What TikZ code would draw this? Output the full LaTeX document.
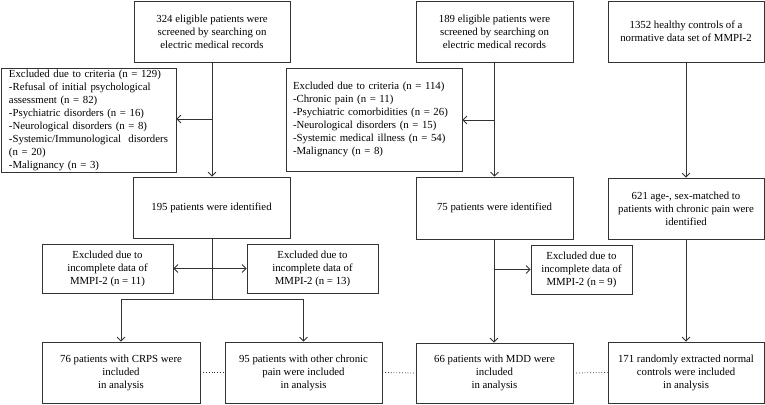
\documentclass[tikz,border=0pt]{standalone}
\usepackage{fontspec}
\setmainfont{Liberation Serif}
\usetikzlibrary{arrows.meta}
\begin{document}
\begin{tikzpicture}[x=1pt,y=-1pt,
  box/.style={draw=black!80, line width=0.8pt, inner sep=0pt, align=center,
    font=\fontsize{10.8}{13}\selectfont},
  lbox/.style={box, align=left},
  arr/.style={draw=black!80, line width=0.8pt, -{Straight Barb[length=4pt,width=8pt]}},
  darr/.style={draw=black!80, line width=0.8pt, {Straight Barb[length=4pt,width=8pt]}-{Straight Barb[length=4pt,width=8pt]}},
  ln/.style={draw=black!80, line width=0.8pt},
  dot/.style={draw=black!80, line width=0.8pt, dotted}]
\useasboundingbox (0,0) rectangle (765,404);
% top row
\node[box, minimum width=156pt, minimum height=61pt] (b1) at (212,31.5) {324 eligible patients were\\screened by searching on\\electric medical records};
\node[box, minimum width=157pt, minimum height=61pt] (b2) at (494.5,31.5) {189 eligible patients were\\screened by searching on\\electric medical records};
\node[box, minimum width=156pt, minimum height=61pt] (b3) at (686,31.5) {1352 healthy controls of a\\normative data set of MMPI-2};
% exclusion by criteria
\node[lbox, minimum width=175pt, minimum height=104pt, text width=159pt] (ex1) at (88.5,120) {Excluded due to criteria (n = 129)\\-Refusal of initial psychological\\assessment (n = 82)\\-Psychiatric disorders (n = 16)\\-Neurological disorders (n = 8)\\-Systemic/Immunological~ disorders\\(n = 20)\\-Malignancy (n = 3)};
\node[lbox, minimum width=176pt, minimum height=103pt, text width=162pt] (ex2) at (374,119.5) {Excluded due to criteria (n = 114)\\-Chronic pain (n = 11)\\-Psychiatric comorbidities (n = 26)\\-Neurological disorders (n = 15)\\-Systemic medical illness (n = 54)\\-Malignancy (n = 8)};
% identified
\node[box, minimum width=157pt, minimum height=61pt] (i1) at (211.5,207.5) {195 patients were identified};
\node[box, minimum width=157pt, minimum height=62pt] (i2) at (494.5,208) {75 patients were identified};
\node[box, minimum width=156pt, minimum height=61pt] (i3) at (686,208.5) {621 age-, sex-matched to\\patients with chronic pain were\\identified};
% incomplete data
\node[box, minimum width=131pt, minimum height=49pt] (e3) at (107.5,268.5) {Excluded due to\\incomplete data of\\MMPI-2 (n = 11)};
\node[box, minimum width=131pt, minimum height=49pt] (e4) at (312.5,268.5) {Excluded due to\\incomplete data of\\MMPI-2 (n = 13)};
\node[box, minimum width=101pt, minimum height=49pt] (e5) at (581.5,269.5) {Excluded due to\\incomplete data of\\MMPI-2 (n = 9)};
% final
\node[box, minimum width=158pt, minimum height=61pt] (f1) at (121,372.5) {76 patients with CRPS were\\included\\in analysis};
\node[box, minimum width=157pt, minimum height=61pt] (f2) at (303.5,372.5) {95 patients with other chronic\\pain were included\\in analysis};
\node[box, minimum width=157pt, minimum height=60pt] (f3) at (494.5,373) {66 patients with MDD were\\included\\in analysis};
\node[box, minimum width=156pt, minimum height=61pt] (f4) at (686,372.5) {171 randomly extracted normal\\controls were included\\in analysis};
% coordinates
\coordinate (c1) at (212,119);
\coordinate (c2) at (494,120);
\coordinate (s1) at (212,299);
\coordinate (sl) at (121,299);
\coordinate (sr) at (303.5,299);
\coordinate (c5) at (494,269.5);
% connectors
\draw[arr] (b1.south) -- (i1.north -| b1.south);
\draw[arr] (c1) -- (c1 -| ex1.east);
\draw[arr] (b2.south) -- (i2.north -| b2.south);
\draw[arr] (c2) -- (c2 -| ex2.east);
\draw[arr] (b3.south) -- (i3.north);
\draw[ln] (i1.south -| c1) -- (s1);
\draw[darr] (e3.east) -- (e4.west);
\draw[ln] (sl) -- (sr);
\draw[arr] (sl) -- (f1.north);
\draw[arr] (sr) -- (f2.north);
\draw[arr] (i2.south -| c2) -- (f3.north -| c2);
\draw[arr] (c5) -- (e5.west);
\draw[arr] (i3.south) -- (f4.north);
\draw[dot] (f1.east) -- (f2.west);
\draw[dot] (f2.east) -- (f3.west);
\draw[dot] (f3.east) -- (f4.west);
\end{tikzpicture}
\end{document}
